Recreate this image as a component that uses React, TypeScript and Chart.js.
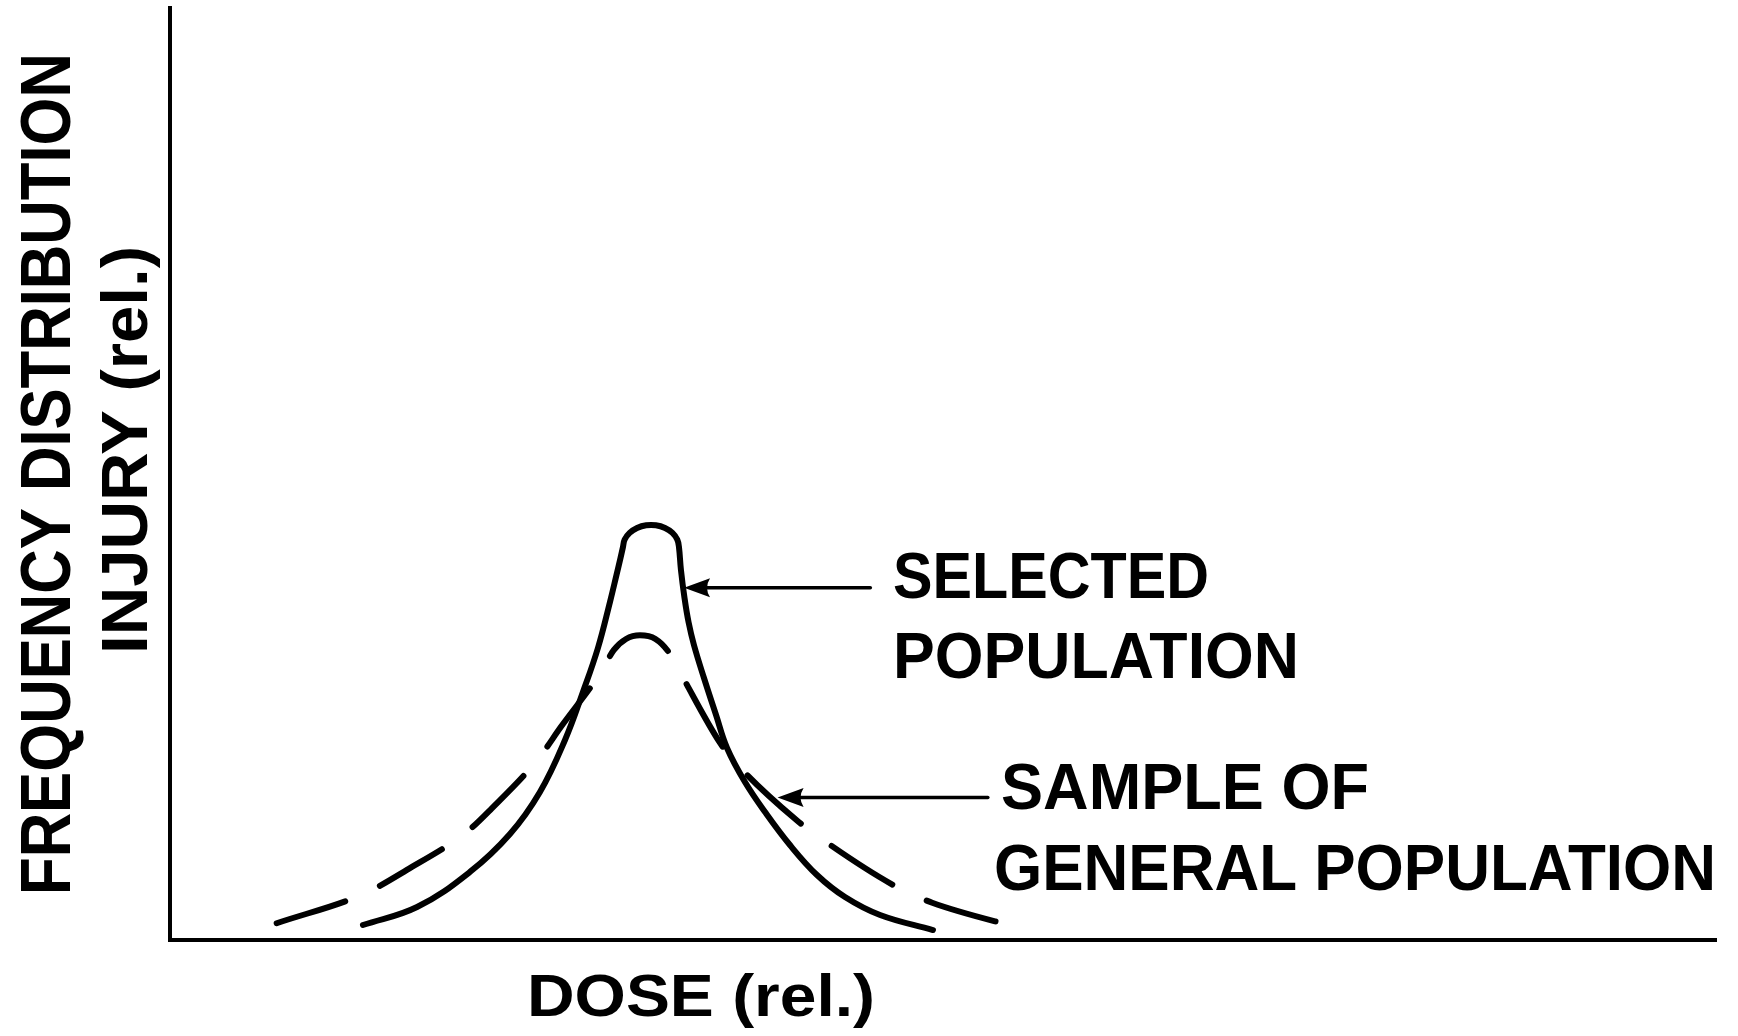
import { useEffect, useRef } from "react";
import { Chart, registerables } from "chart.js";

Chart.register(...registerables);

// Selected population (solid curve)
const selectedDose = [12.48, 15.98, 19.4, 21.99, 23.93, 25.55, 26.71, 27.68, 28.46, 28.88, 29.14, 29.3, 29.41, 29.73, 30.21, 30.8, 31.43, 32.02, 32.5, 32.81, 32.92, 33.05, 33.28, 33.54, 33.89, 34.54, 35.32, 36.03, 37.19, 38.49, 40.1, 41.85, 43.66, 45.93, 49.35];
const selectedFreq = [1.61, 3.54, 7.3, 11.37, 15.88, 21.46, 26.61, 31.33, 36.27, 39.16, 40.99, 42.17, 42.97, 43.68, 44.21, 44.5, 44.5, 44.21, 43.68, 42.97, 42.17, 39.7, 36.7, 34.12, 31.65, 28.11, 24.14, 20.6, 16.95, 13.73, 10.19, 6.97, 4.61, 2.68, 1.07];

// Sample of general population (dashed curve)
const generalDose = [6.9, 12.6, 15.3, 19.2, 20.8, 23.8, 25.3, 27.9, 28.7, 29.5, 30.4, 31.4, 32.3, 33.0, 35.6, 36.6, 40.5, 42.1, 47.0, 49.3, 55.4];
const generalFreq = [1.8, 5.0, 7.5, 11.6, 14.1, 19.4, 22.9, 28.8, 31.1, 32.3, 32.7, 32.3, 30.8, 28.7, 21.1, 19.0, 12.9, 10.9, 5.7, 4.0, 1.1];

// Annotation texts
const selectedLabel = ["SELECTED", "POPULATION"];
const generalLabel = ["SAMPLE OF", "GENERAL POPULATION"];
const xTitle = "DOSE (rel.)";
const yTitle = ["FREQUENCY DISTRIBUTION", "INJURY (rel.)"];

// Arrow anchors in data units: [tipX, tipY, tailX]
const selectedArrow = [33.25, 37.8, 45.3];
const generalArrow = [39.3, 15.3, 52.9];

const FONT = '"Liberation Sans", Arial, Helvetica, sans-serif';

function fitText(
  ctx: CanvasRenderingContext2D,
  text: string,
  x: number,
  y: number,
  width: number,
  size: number,
  center: boolean,
  rotate: boolean
) {
  ctx.save();
  ctx.font = `bold ${size}px ${FONT}`;
  ctx.fillStyle = "#000";
  ctx.textAlign = "left";
  ctx.textBaseline = "alphabetic";
  const w = ctx.measureText(text).width;
  ctx.translate(x, y);
  if (rotate) ctx.rotate(-Math.PI / 2);
  ctx.scale(width / w, 1);
  ctx.fillText(text, center ? -w / 2 : 0, 0);
  ctx.restore();
}

function drawArrow(ctx: CanvasRenderingContext2D, tipX: number, tipY: number, tailX: number) {
  const headLen = 26;
  const halfW = 9.5;
  ctx.save();
  ctx.strokeStyle = "#000";
  ctx.fillStyle = "#000";
  ctx.lineWidth = 3.5;
  ctx.lineCap = "round";
  ctx.beginPath();
  ctx.moveTo(tailX, tipY);
  ctx.lineTo(tipX + headLen - 4, tipY);
  ctx.stroke();
  ctx.beginPath();
  ctx.moveTo(tipX, tipY);
  ctx.lineTo(tipX + headLen, tipY - halfW);
  ctx.quadraticCurveTo(tipX + headLen - 6, tipY, tipX + headLen, tipY + halfW);
  ctx.closePath();
  ctx.fill();
  ctx.restore();
}

const annotationPlugin = {
  id: "annotations",
  afterDatasetsDraw(chart: any) {
    const ctx: CanvasRenderingContext2D = chart.ctx;
    const xs = chart.scales.x;
    const ys = chart.scales.y;
    const px = (v: number) => xs.getPixelForValue(v);
    const py = (v: number) => ys.getPixelForValue(v);

    // arrows
    drawArrow(ctx, px(selectedArrow[0]), py(selectedArrow[1]), px(selectedArrow[2]));
    drawArrow(ctx, px(generalArrow[0]), py(generalArrow[1]), px(generalArrow[2]));

    // curve labels
    fitText(ctx, selectedLabel[0], 893, 598, 316, 64, false, false);
    fitText(ctx, selectedLabel[1], 893, 678, 406, 64, false, false);
    fitText(ctx, generalLabel[0], 1001, 809, 368, 64, false, false);
    fitText(ctx, generalLabel[1], 994, 890, 722, 64, false, false);

    // axis titles
    fitText(ctx, xTitle, 701, 1016, 348, 60, true, false);
    fitText(ctx, yTitle[0], 70, 474, 842, 71, true, true);
    fitText(ctx, yTitle[1], 147, 450, 408, 64, true, true);
  },
};

export default function App() {
  const ref = useRef<HTMLCanvasElement | null>(null);

  useEffect(() => {
    if (!ref.current) return;
    const chart = new Chart(ref.current, {
      type: "line",
      data: {
        datasets: [
          {
            label: "Selected population",
            data: selectedDose.map((x, i) => ({ x, y: selectedFreq[i] })),
            borderColor: "#000",
            borderWidth: 6,
            pointRadius: 0,
            tension: 0.4,
            borderCapStyle: "round",
            borderJoinStyle: "round",
            fill: false,
          },
          {
            label: "Sample of general population",
            data: generalDose.map((x, i) => ({ x, y: generalFreq[i] })),
            borderColor: "#000",
            borderWidth: 6,
            borderDash: [72, 38],
            pointRadius: 0,
            cubicInterpolationMode: "monotone",
            borderCapStyle: "round",
            borderJoinStyle: "round",
            fill: false,
          },
        ],
      },
      options: {
        animation: false,
        responsive: false,
        devicePixelRatio: 1,
        layout: { padding: { left: 170, right: 22, top: 8, bottom: 96 } },
        plugins: {
          legend: { display: false },
          tooltip: { enabled: false },
        },
        scales: {
          x: {
            type: "linear",
            min: 0,
            max: 100,
            ticks: { display: false },
            grid: { display: true, color: "rgba(0,0,0,0)", drawTicks: false },
            border: { display: true, color: "#000", width: 4 },
          },
          y: {
            type: "linear",
            min: 0,
            max: 100,
            ticks: { display: false },
            grid: { display: true, color: "rgba(0,0,0,0)", drawTicks: false },
            border: { display: true, color: "#000", width: 4 },
          },
        },
      },
      plugins: [annotationPlugin],
    });
    return () => chart.destroy();
  }, []);

  return (
    <div style={{ position: "fixed", left: 0, top: 0, width: 1738, height: 1036, background: "#fff" }}>
      <canvas ref={ref} width={1738} height={1036} style={{ width: 1738, height: 1036, display: "block" }} />
    </div>
  );
}
